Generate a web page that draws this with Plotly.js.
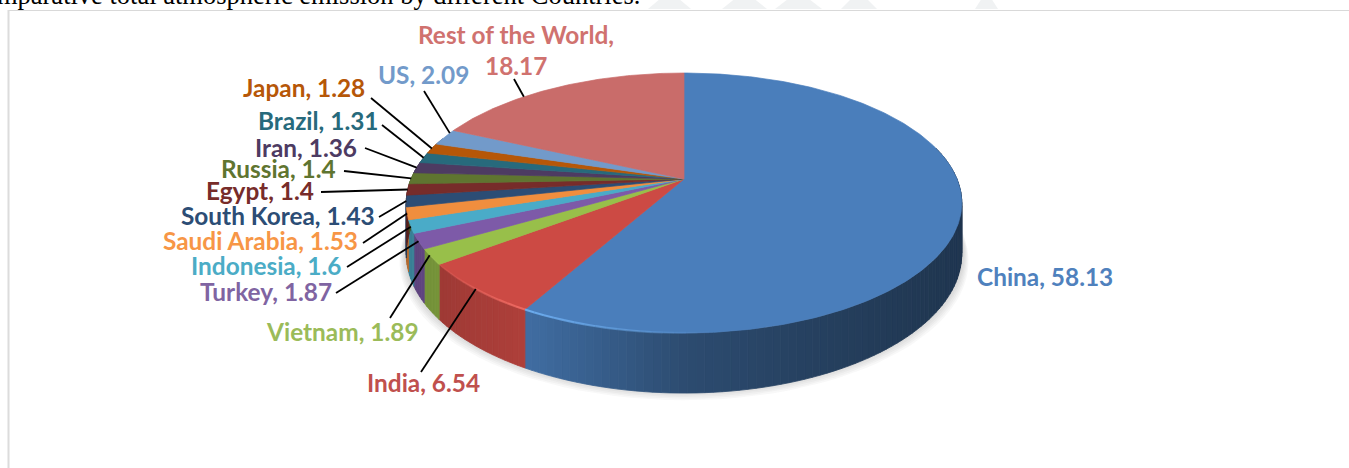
<!DOCTYPE html>
<html>
<head>
<meta charset="utf-8">
<script src="https://cdn.plot.ly/plotly-3.0.1.min.js"></script>
<style>html,body{margin:0;padding:0;background:#fff;overflow:hidden}#chart{width:1349px;height:468px}</style>
</head>
<body>
<div id="chart"></div>
<script>
// ---- data ----
const categories = ["China","India","Vietnam","Turkey","Indonesia","Saudi Arabia","South Korea","Egypt","Russia","Iran","Brazil","Japan","US","Rest of the World"];
const values = [58.13,6.54,1.89,1.87,1.6,1.53,1.43,1.4,1.4,1.36,1.31,1.28,2.09,18.17];
const sliceColors = ["#4a7ebb","#cc4a44","#98bf4a","#7d5aa8","#4aabc8","#f08e3e","#2c4d75","#772c2a","#5f7530","#4d3b62","#276a7c","#b65708","#729aca","#c96c6a"];
const labelColors = ["#4f81bd","#c0504d","#9bbb59","#8064a2","#4bacc6","#f79646","#2c4d75","#772c2a","#5f7530","#4d3b62","#276a7c","#b65708","#729aca","#d0726f"];

// ---- layout of labels (pixel axes): label centre, leader start, where on the slice the leader lands ----
const labelX = [1045,423,342,266,266,260,278,260,278,306,318,304,423,516];
const labelY = [276,382,331,291,265,240,215,190,168,147,120,87,74,34];
const leadStartX = [null,421,390,336,347,363,379,321,344,365,382,371,424,514];
const leadStartY = [null,372,318,293,267,243,217,192,171,148,125,98,91,79];
const leadFrac = [null,.5,.6,.5,.5,.5,.5,.5,.5,.5,.5,.5,.8,.36];

// ---- projection of the tilted disc ----
const CX = 684, AX = 273, PERSP = 0.1846, YA = -92.5, YB = 179, DEPTH = 49;
function proj(deg, r) {
  r = r === undefined ? 1 : r;
  const t = deg * Math.PI / 180, u = r * Math.sin(t), v = r * Math.cos(t), den = 1 + PERSP * v;
  return {x: CX + AX * u / den, y: (YA * v + YB) / den, den: den};
}
function rgb(hex){return [1,3,5].map(i=>parseInt(hex.substr(i,2),16));}
function css(c,a){const s=c.map(v=>Math.max(0,Math.min(255,Math.round(v)))).join(",");return a===undefined?`rgb(${s})`:`rgba(${s},${a})`;}
function shadeAt(x){
  const p=[[400,.74],[530,.86],[684,.6],[800,.52],[965,.42]];
  if(x<=p[0][0])return p[0][1];
  for(let i=1;i<p.length;i++) if(x<=p[i][0]){const k=(x-p[i-1][0])/(p[i][0]-p[i-1][0]);return p[i-1][1]+k*(p[i][1]-p[i-1][1]);}
  return p[p.length-1][1];
}
function glowAt(x){ return x<530 ? Math.max(0,(x-430)/100)*0.75 : Math.max(0,(720-x)/190)*0.75; }

const total = values.reduce((a,b)=>a+b,0);
const starts = []; values.reduce((acc,v,i)=>{starts[i]=acc;return acc+v;},0);
const deg = p => p/total*360;

const traces = [];
function poly(xs,ys,fill,name,lineColor){
  traces.push({type:"scatter",mode:"lines",x:xs,y:ys,fill:"toself",fillcolor:fill,
    line:{color:lineColor||fill,width:lineColor?0.7:0},name:name,hoverinfo:name?"name":"skip",showlegend:false});
}

// soft shadow
for(let k=7;k>=1;k--){
  const xs=[],ys=[];
  for(let a=0;a<=360;a+=3){const p=proj(a);xs.push(CX+(p.x-CX)*(1+k*0.0035));ys.push(p.y+DEPTH/p.den+k*1.6-4);}
  poly(xs,ys,"rgba(60,60,60,0.035)",null);
}

// side wall
categories.forEach((c,i)=>{
  const a0=deg(starts[i]),a1=deg(starts[i]+values[i]),base=rgb(sliceColors[i]);
  const from=Math.max(a0,75),to=Math.min(a1,290);
  if(to<=from)return;
  const n=Math.max(1,Math.ceil((to-from)/1.5));
  for(let s=0;s<n;s++){
    const b0=from+(to-from)*s/n,b1=from+(to-from)*(s+1)/n,p=proj(b0),q=proj(b1);
    const f=shadeAt((p.x+q.x)/2),col=css(base.map(v=>v*f));
    traces.push({type:"scatter",mode:"lines",x:[p.x,q.x,q.x,p.x,p.x],
      y:[p.y,q.y,q.y+DEPTH/q.den,p.y+DEPTH/p.den,p.y],fill:"toself",fillcolor:col,
      line:{color:col,width:0.8},hoverinfo:"skip",showlegend:false});
  }
});

// top face, one slice per value
categories.forEach((c,i)=>{
  const a0=deg(starts[i]),a1=deg(starts[i]+values[i]);
  const xs=[CX],ys=[YB],n=Math.max(2,Math.ceil((a1-a0)/0.75));
  for(let s=0;s<=n;s++){const p=proj(a0+(a1-a0)*s/n);xs.push(p.x);ys.push(p.y);}
  xs.push(CX);ys.push(YB);
  poly(xs,ys,sliceColors[i],c+", "+values[i],sliceColors[i]);
});

// bevel highlight along the front rim
categories.forEach((c,i)=>{
  const a0=deg(starts[i]),a1=deg(starts[i]+values[i]),base=rgb(sliceColors[i]);
  const from=Math.max(a0,150),to=Math.min(a1,260);
  if(to<=from)return;
  const n=Math.max(1,Math.ceil((to-from)/2));
  for(let s=0;s<n;s++){
    const p=proj(from+(to-from)*s/n),q=proj(from+(to-from)*(s+1)/n),h=glowAt((p.x+q.x)/2);
    if(h<=0.02)continue;
    traces.push({type:"scatter",mode:"lines",x:[p.x,q.x],y:[p.y,q.y],
      line:{color:css(base.map(v=>v*1.3+22),h),width:2.2},hoverinfo:"skip",showlegend:false});
  }
});

// leader lines
categories.forEach((c,i)=>{
  if(leadFrac[i]===null)return;
  const p=proj(deg(starts[i]+values[i]*leadFrac[i]));
  traces.push({type:"scatter",mode:"lines",x:[leadStartX[i],p.x],y:[leadStartY[i],p.y],
    line:{color:"#000",width:1.8},hoverinfo:"skip",showlegend:false});
});

// labels
const FS = 24.4;
const annotations = [];
categories.forEach((c,i)=>{
  const font={family:"Lato, Carlito, sans-serif",size:FS,color:labelColors[i],weight:700};
  const base={xref:"x",yref:"y",showarrow:false,xanchor:"center",yanchor:"middle",font:font};
  if(c==="Rest of the World"){
    annotations.push(Object.assign({},base,{x:labelX[i],y:labelY[i],text:c+","}));
    annotations.push(Object.assign({},base,{x:labelX[i],y:labelY[i]+31,text:String(values[i])}));
  } else {
    annotations.push(Object.assign({},base,{x:labelX[i],y:labelY[i],text:c+", "+values[i]}));
  }
});
// clipped caption of the source page, above the chart frame
annotations.push({xref:"x",yref:"y",x:641,y:11.5,xanchor:"right",yanchor:"bottom",showarrow:false,borderpad:0,
  text:"Comparative total atmospheric emission by different Countries.",
  font:{family:"Liberation Serif, serif",size:26.5,color:"#000"}});

// chart frame and the faint smudges of the page behind it
const smudgeX0 = [648,722,775,841,975], smudgeX1 = [691,767,822,877,998];
const shapes=[
 {type:"line",xref:"x",yref:"y",x0:8,x1:1349,y0:10.5,y1:10.5,line:{color:"#d9d9d9",width:1.2}},
 {type:"line",xref:"x",yref:"y",x0:8.5,x1:8.5,y0:10,y1:468,line:{color:"#dcdcdc",width:2}}
];
smudgeX0.forEach((x0,i)=>{
  const x1=smudgeX1[i],m=(x1-x0)*0.25;
  shapes.push({type:"path",xref:"x",yref:"y",layer:"below",line:{width:0},fillcolor:"#f0f2f3",
    path:`M ${x0} 9 L ${x0+m} 0 L ${x1-m} 0 L ${x1} 9 Z`});
});

const axis={visible:false,showgrid:false,zeroline:false,fixedrange:true};
Plotly.newPlot("chart",traces,{
  width:1349,height:468,margin:{l:0,r:0,t:0,b:0,pad:0},
  paper_bgcolor:"#fff",plot_bgcolor:"#fff",showlegend:false,hovermode:"closest",
  xaxis:Object.assign({range:[0,1349]},axis),
  yaxis:Object.assign({range:[468,0]},axis),
  annotations:annotations,shapes:shapes
},{displayModeBar:false});
</script>
</body>
</html>
